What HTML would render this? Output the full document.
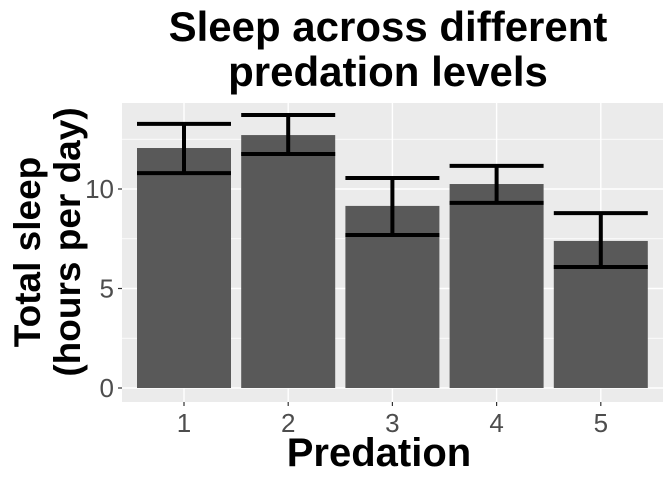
<!DOCTYPE html>
<html><head><meta charset="utf-8"><style>
body{margin:0;background:#fff;}
svg{display:block;font-family:"Liberation Sans",sans-serif;}
</style></head><body>
<svg id="chart" width="672" height="480">
<text x="388" y="41" text-anchor="middle" font-size="42" font-weight="bold">Sleep across different</text>
<text x="388" y="86" text-anchor="middle" font-size="42" font-weight="bold">predation levels</text>
<rect x="122" y="103" width="541" height="299" fill="#ebebeb"/>
<g id="grid"></g><g id="bars"></g><g id="errs"></g><g id="axes"></g>
<text transform="translate(40,252) rotate(-90)" text-anchor="middle" font-size="37" font-weight="bold">Total sleep</text>
<text transform="translate(80,242) rotate(-90)" text-anchor="middle" font-size="37" font-weight="bold">(hours per day)</text>
<text x="379" y="466" text-anchor="middle" font-size="40" font-weight="bold">Predation</text>
</svg>
<script>
const categories=["1","2","3","4","5"];
const means=[12.06,12.71,9.15,10.25,7.39];
const upper=[13.27,13.72,10.55,11.16,8.79];
const lower=[10.8,11.76,7.69,9.3,6.08];
const yTicks=[0,5,10];
const yMinor=[2.5,7.5,12.5];
const NS="http://www.w3.org/2000/svg";
const y=v=>388-v*19.9;
const x=i=>184+i*104.2;
const bw=94;
function mk(p,t,a){const e=document.createElementNS(NS,t);for(const k in a)e.setAttribute(k,a[k]);p.appendChild(e);return e;}
const g=document.getElementById('grid'),b=document.getElementById('bars'),er=document.getElementById('errs'),ax=document.getElementById('axes');
yMinor.forEach(v=>{const l=mk(g,'line',{x1:122,x2:663,y1:y(v),y2:y(v),stroke:'#fff','stroke-width':0.7});

});
yTicks.forEach(v=>{const l=mk(g,'line',{x1:122,x2:663,y1:y(v),y2:y(v),stroke:'#fff','stroke-width':1.4});


const t=mk(ax,'text',{x:114,y:y(v)+9,'text-anchor':'end','font-size':26,fill:'#4d4d4d'});t.textContent=v;


const tk=mk(ax,'line',{x1:118,x2:122,y1:y(v),y2:y(v),stroke:'#333','stroke-width':1.2});

});
categories.forEach((c,i)=>{const cx=x(i);
const vl=mk(g,'line',{x1:cx,x2:cx,y1:103,y2:402,stroke:'#fff','stroke-width':1.4});


const r=mk(b,'rect',{x:cx-bw/2,y:y(means[i]),width:bw,height:y(0)-y(means[i]),fill:'#595959'});


const eg=mk(er,'g',{stroke:'#000','stroke-width':4,fill:'none'});


mk(eg,'line',{x1:cx-bw/2,x2:cx+bw/2,y1:y(upper[i]),y2:y(upper[i])});
mk(eg,'line',{x1:cx-bw/2,x2:cx+bw/2,y1:y(lower[i]),y2:y(lower[i])});
mk(eg,'line',{x1:cx,x2:cx,y1:y(upper[i]),y2:y(lower[i])});
const tk=mk(ax,'line',{x1:cx,x2:cx,y1:402,y2:406,stroke:'#333','stroke-width':1.2});


const t=mk(ax,'text',{x:cx,y:432,'text-anchor':'middle','font-size':26,fill:'#4d4d4d'});t.textContent=c;

});
</script>
</body></html>
